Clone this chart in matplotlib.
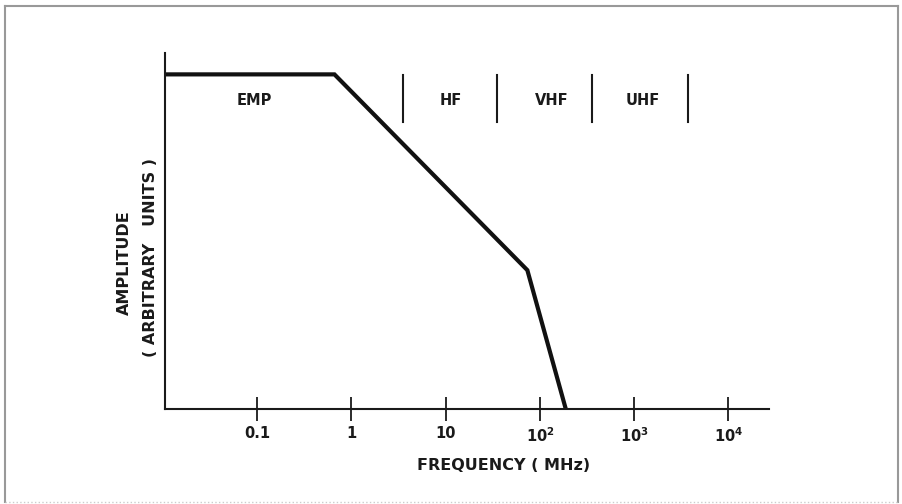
import matplotlib.pyplot as plt
from matplotlib.lines import Line2D

# amplitude spectrum (arbitrary units)
freq = [0.0105, 0.66, 73.5, 188]
amp = [94, 94, 39, 0]

# band boundaries (MHz) and band labels
band_edges = [3.5, 35, 360, 3700]
band_names = ['EMP', 'HF', 'VHF', 'UHF']
band_label_x = [0.094, 11.4, 135, 1245]

tick_vals = [0.1, 1, 10, 100, 1000, 10000]
tick_labels = ['0.1', '1', '10', r'$\mathregular{10^2}$',
               r'$\mathregular{10^3}$', r'$\mathregular{10^4}$']

plt.rcParams['font.family'] = ['DejaVu Sans']
plt.rcParams['font.weight'] = 'bold'
plt.rcParams['mathtext.default'] = 'regular'

ink = '#1a1a1a'

fig = plt.figure(figsize=(9.03, 5.04), dpi=100)
ax = fig.add_axes([0.1827, 0.1885, 0.669, 0.7063])

ax.plot(freq, amp, color='#111111', lw=3, solid_joinstyle='miter')

for e in band_edges:
    ax.plot([e, e], [80.6, 93.8], color=ink, lw=1.5)
for name, x in zip(band_names, band_label_x):
    ax.text(x, 86.8, name, ha='center', va='center', fontsize=10.5,
            color=ink, fontweight='bold')

ax.set_xscale('log')
ax.set_xlim(0.0105, 27000)
ax.set_ylim(0, 100)
ax.set_xticks(tick_vals)
ax.set_xticklabels(tick_labels, fontweight='bold')
ax.minorticks_off()
ax.set_yticks([])
ax.tick_params(axis='x', direction='inout', length=17, width=1.3,
               pad=4, labelsize=10.5, colors=ink)

for s in ['top', 'right']:
    ax.spines[s].set_visible(False)
for s in ['left', 'bottom']:
    ax.spines[s].set_linewidth(1.5)
    ax.spines[s].set_color(ink)

ax.set_xlabel('FREQUENCY ( MHz)', fontsize=11.5, fontweight='bold',
              labelpad=7, color=ink)
ax.xaxis.set_label_coords(0.56, -0.138)
fig.text(0.138, 0.478, 'AMPLITUDE', rotation=90, ha='center', va='center',
         fontsize=11.5, fontweight='bold', color=ink)
fig.text(0.167, 0.489, '( ARBITRARY   UNITS )', rotation=90, ha='center',
         va='center', fontsize=11.5, fontweight='bold', color=ink)

# page frame around the figure
frame = dict(color='#999999', lw=1.5, transform=fig.transFigure)
fig.add_artist(Line2D([0.005, 0.995], [0.988, 0.988], **frame))
fig.add_artist(Line2D([0.005, 0.005], [0.003, 0.988], **frame))
fig.add_artist(Line2D([0.994, 0.994], [0.003, 0.988], **frame))
fig.add_artist(Line2D([0.005, 0.994], [0.004, 0.004], color='#cccccc',
                      lw=1, ls=':', transform=fig.transFigure))

fig.savefig('out.png', dpi=100)
